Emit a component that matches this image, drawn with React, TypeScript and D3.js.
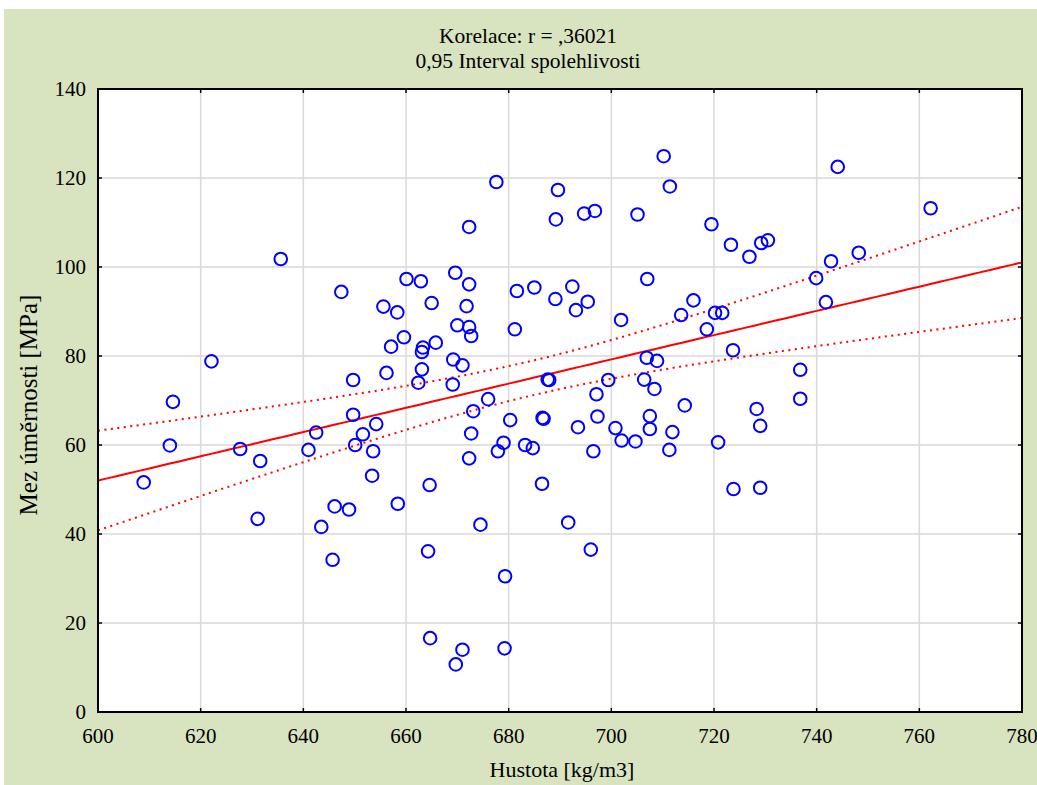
import React from "react";
import * as d3 from "d3";

// Hustota [kg/m3]
const density: number[] = [
  608.9, 614.6, 614.0, 622.1, 627.7, 631.6, 631.1, 635.6, 641.0, 642.5,
  643.5, 647.4, 646.1, 645.7, 648.9, 649.7, 649.7, 650.1, 651.6, 654.2,
  653.6, 653.4, 655.6, 656.2, 657.1, 658.3, 658.4, 659.6, 660.1, 662.9,
  662.4, 663.1, 663.3, 663.1, 665.0, 665.8, 664.6, 664.3, 664.7, 669.6,
  670.0, 669.2, 669.1, 671.0, 671.8, 672.3, 672.7, 672.3, 672.3, 673.1,
  672.7, 672.3, 671.0, 669.7, 674.5, 676.0, 677.6, 677.9, 679.0, 679.3,
  679.2, 680.3, 681.2, 681.6, 683.2, 684.7, 685.0, 686.6, 686.8, 686.5,
  687.6, 687.9, 689.1, 689.2, 689.6, 691.6, 692.4, 693.1, 693.5, 694.7,
  695.4, 696.8, 697.1, 697.3, 696.5, 696.0, 699.4, 700.8, 701.9, 702.0,
  704.7, 705.1, 706.4, 707.0, 706.9, 707.5, 707.5, 708.9, 708.4, 710.2,
  711.4, 711.3, 711.9, 713.6, 714.3, 716.0, 718.6, 719.5, 720.2, 721.6,
  720.8, 723.3, 723.7, 723.8, 726.9, 728.3, 729.2, 730.5, 729.0, 729.0,
  736.8, 736.8, 739.9, 741.8, 742.8, 744.1, 748.2, 762.2,
];

// Mez úměrnosti [MPa]
const strength: number[] = [
  51.6, 69.7, 59.9, 78.8, 59.1, 56.4, 43.4, 101.8, 58.9, 62.8,
  41.6, 94.4, 46.2, 34.2, 45.5, 74.6, 66.8, 60.0, 62.4, 64.7,
  58.6, 53.1, 91.1, 76.2, 82.1, 89.8, 46.8, 84.2, 97.3, 96.8,
  74.0, 80.9, 81.9, 77.0, 91.9, 83.0, 51.0, 36.1, 16.6, 98.7,
  86.9, 79.2, 73.6, 77.9, 91.2, 86.5, 84.5, 96.1, 109.0, 67.6,
  62.6, 57.0, 14.0, 10.7, 42.1, 70.3, 119.1, 58.6, 60.5, 30.5,
  14.3, 65.6, 86.0, 94.6, 60.0, 59.3, 95.4, 66.1, 65.9, 51.3,
  74.7, 74.6, 92.8, 110.7, 117.3, 42.6, 95.6, 90.3, 64.0, 112.0,
  92.2, 112.6, 71.4, 66.4, 58.6, 36.5, 74.6, 63.8, 88.1, 61.0,
  60.8, 111.8, 74.7, 97.3, 79.6, 66.5, 63.6, 78.9, 72.6, 124.9,
  118.1, 58.9, 62.9, 89.2, 68.9, 92.5, 86.0, 109.6, 89.7, 89.7,
  60.6, 105.0, 81.3, 50.1, 102.3, 68.1, 105.4, 106.0, 64.3, 50.4,
  76.9, 70.4, 97.5, 92.1, 101.3, 122.5, 103.2, 113.2,
];

const xTicks: number[] = [600, 620, 640, 660, 680, 700, 720, 740, 760, 780];
const yTicks: number[] = [0, 20, 40, 60, 80, 100, 120, 140];

const titleLines: string[] = ["Korelace: r = ,36021", "0,95 Interval spolehlivosti"];
const xTitle = "Hustota [kg/m3]";
const yTitle = "Mez úměrnosti [MPa]";

const W = 1037;
const H = 785;
const L = 98, R = 1022, T = 89, B = 712;
const FONT = "'Liberation Serif', 'Times New Roman', serif";

export default function App() {
  const x = d3.scaleLinear().domain([600, 780]).range([L, R]);
  const y = d3.scaleLinear().domain([0, 140]).range([B, T]);

  const n = density.length;
  const mx = d3.mean(density) as number;
  const my = d3.mean(strength) as number;
  let sxx = 0, sxy = 0;
  for (let i = 0; i < n; i++) {
    sxx += (density[i] - mx) ** 2;
    sxy += (density[i] - mx) * (strength[i] - my);
  }
  const b1 = sxy / sxx;
  const b0 = my - b1 * mx;
  let sse = 0;
  for (let i = 0; i < n; i++) sse += (strength[i] - b0 - b1 * density[i]) ** 2;
  const s = Math.sqrt(sse / (n - 2));
  const tcrit = 1.979;

  const xs = d3.range(600, 780.01, 2);
  const fit = (v: number) => b0 + b1 * v;
  const hw = (v: number) => tcrit * s * Math.sqrt(1 / n + (v - mx) ** 2 / sxx);
  const line = d3
    .line<number[]>()
    .x((d) => x(d[0]))
    .y((d) => y(d[1]));
  const mid = line(xs.map((v) => [v, fit(v)])) as string;
  const up = line(xs.map((v) => [v, fit(v) + hw(v)])) as string;
  const lo = line(xs.map((v) => [v, fit(v) - hw(v)])) as string;

  const tick = 4;

  return (
    <svg
      width={W}
      height={H}
      style={{ position: "absolute", left: 0, top: 0, display: "block" }}
      fontFamily={FONT}
    >
      <rect x={0} y={0} width={W} height={H} fill="#ffffff" />
      <rect x={4} y={9} width={W - 4} height={H - 9} fill="#d8e3bf" />
      <rect x={L} y={T} width={R - L} height={B - T} fill="#ffffff" />
      <defs>
        <clipPath id="plot">
          <rect x={L} y={T} width={R - L} height={B - T} />
        </clipPath>
      </defs>
      {/* grid */}
      {xTicks.slice(1, -1).map((t) => (
        <line key={"gx" + t} x1={x(t)} x2={x(t)} y1={T} y2={B} stroke="#d9d9d9" strokeWidth={1.5} />
      ))}
      {yTicks.slice(1, -1).map((t) => (
        <line key={"gy" + t} x1={L} x2={R} y1={y(t)} y2={y(t)} stroke="#d9d9d9" strokeWidth={1.5} />
      ))}
      <g clipPath="url(#plot)">
        <path d={up} fill="none" stroke="#ff0000" strokeWidth={2} strokeDasharray="2 4.5" />
        <path d={lo} fill="none" stroke="#ff0000" strokeWidth={2} strokeDasharray="2 4.5" />
        <path d={mid} fill="none" stroke="#ff0000" strokeWidth={2} />
        {density.map((d, i) => (
          <circle key={i} cx={x(d)} cy={y(strength[i])} r={6.3} fill="none" stroke="#0000ff" strokeWidth={2} />
        ))}
      </g>
      {/* frame + ticks */}
      <rect x={L} y={T} width={R - L} height={B - T} fill="none" stroke="#000000" strokeWidth={2} />
      {xTicks.map((t) => (
        <g key={"tx" + t}>
          <line x1={x(t)} x2={x(t)} y1={B} y2={B - tick} stroke="#000" strokeWidth={1.5} />
          <line x1={x(t)} x2={x(t)} y1={T} y2={T + tick} stroke="#000" strokeWidth={1.5} />
          <text x={x(t)} y={743} textAnchor="middle" fontSize={21} fill="#000">
            {t}
          </text>
        </g>
      ))}
      {yTicks.map((t) => (
        <g key={"ty" + t}>
          <line x1={L} x2={L + tick} y1={y(t)} y2={y(t)} stroke="#000" strokeWidth={1.5} />
          <line x1={R} x2={R - tick} y1={y(t)} y2={y(t)} stroke="#000" strokeWidth={1.5} />
          <text x={86} y={y(t)} dy="0.34em" textAnchor="end" fontSize={21} fill="#000">
            {t}
          </text>
        </g>
      ))}
      {titleLines.map((tl, i) => (
        <text key={tl} x={528} y={43 + i * 24.5} textAnchor="middle" fontSize={21.5} fill="#000">
          {tl}
        </text>
      ))}
      <text x={562} y={777} textAnchor="middle" fontSize={22} fill="#000">
        {xTitle}
      </text>
      <text
        transform={`translate(37,405) rotate(-90)`}
        textAnchor="middle"
        fontSize={25}
        fill="#000"
      >
        {yTitle}
      </text>
    </svg>
  );
}
